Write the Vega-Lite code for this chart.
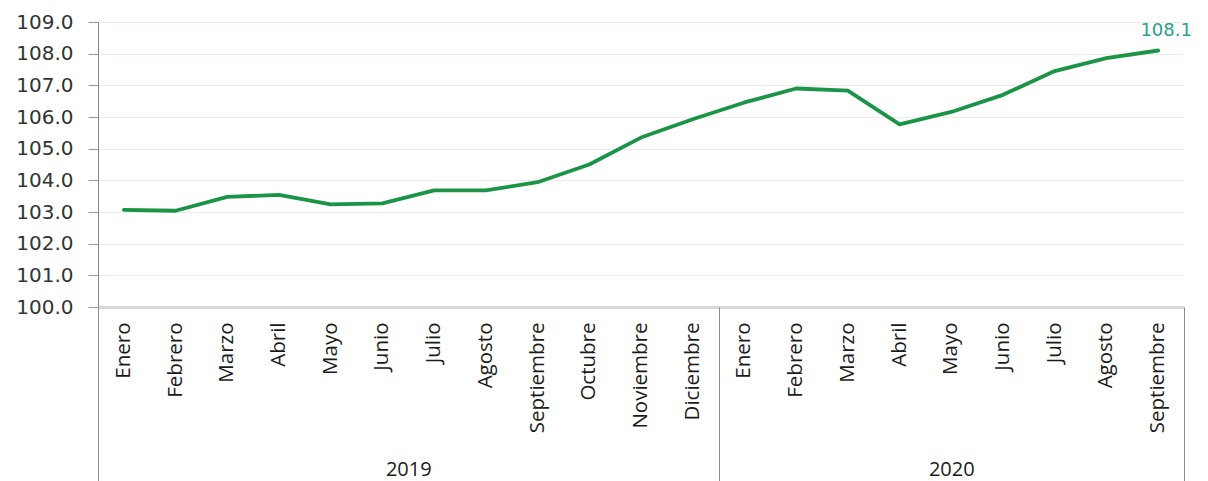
{
  "$schema": "https://vega.github.io/schema/vega-lite/v6.json",
  "width": 1086,
  "height": 285,
  "autosize": {"type": "none"},
  "padding": {"left": 98, "top": 22, "right": 24, "bottom": 174},
  "background": "white",
  "config": {
    "view": {"stroke": null},
    "axis": {"labelOverlap": false, "titlePadding": 0}
  },
  "datasets": {
    "serie": [
      {"periodo": "Enero 2019", "valor": 103.07},
      {"periodo": "Febrero 2019", "valor": 103.04},
      {"periodo": "Marzo 2019", "valor": 103.48},
      {"periodo": "Abril 2019", "valor": 103.54},
      {"periodo": "Mayo 2019", "valor": 103.24},
      {"periodo": "Junio 2019", "valor": 103.27},
      {"periodo": "Julio 2019", "valor": 103.68},
      {"periodo": "Agosto 2019", "valor": 103.68},
      {"periodo": "Septiembre 2019", "valor": 103.94},
      {"periodo": "Octubre 2019", "valor": 104.5},
      {"periodo": "Noviembre 2019", "valor": 105.35},
      {"periodo": "Diciembre 2019", "valor": 105.93},
      {"periodo": "Enero 2020", "valor": 106.46},
      {"periodo": "Febrero 2020", "valor": 106.9},
      {"periodo": "Marzo 2020", "valor": 106.83},
      {"periodo": "Abril 2020", "valor": 105.77},
      {"periodo": "Mayo 2020", "valor": 106.16},
      {"periodo": "Junio 2020", "valor": 106.7},
      {"periodo": "Julio 2020", "valor": 107.45},
      {"periodo": "Agosto 2020", "valor": 107.86},
      {"periodo": "Septiembre 2020", "valor": 108.1}
    ],
    "anios": [{"anio": 2019}, {"anio": 2020}],
    "limites": [{"mes": 0}, {"mes": 12}, {"mes": 21}]
  },
  "layer": [
    {
      "data": {"name": "serie"},
      "encoding": {
        "x": {
          "field": "periodo",
          "type": "nominal",
          "sort": null,
          "scale": {"type": "band", "paddingInner": 0, "paddingOuter": 0},
          "axis": {
            "orient": "bottom",
            "title": null,
            "labelExpr": "split(datum.label, ' ')[0]",
            "labelAngle": 270,
            "labelAlign": "right",
            "labelBaseline": "middle",
            "labelPadding": 15,
            "labelFont": "Open Sans",
            "labelFontSize": 20.5,
            "labelColor": "#1a1a1a",
            "ticks": false,
            "grid": false,
            "domain": true,
            "domainColor": "#d6d6d6",
            "domainWidth": 3
          }
        },
        "y": {
          "field": "valor",
          "type": "quantitative",
          "scale": {"domain": [100, 109], "nice": false, "zero": false},
          "axis": {
            "title": null,
            "values": [100, 101, 102, 103, 104, 105, 106, 107, 108, 109],
            "format": ".1f",
            "labelFont": "DejaVu Sans",
            "labelFontSize": 20,
            "labelColor": "#333333",
            "labelPadding": 15,
            "tickSize": 10,
            "tickColor": "#999999",
            "domainColor": "#888888",
            "grid": true,
            "gridColor": "#f1eaea",
            "gridWidth": 1.2
          }
        }
      },
      "layer": [
        {
          "mark": {"type": "line", "color": "#1b9448", "strokeWidth": 3.8, "strokeJoin": "round", "strokeCap": "round"}
        },
        {
          "transform": [{"filter": "datum.periodo == 'Septiembre 2020'"}],
          "mark": {"type": "text", "font": "DejaVu Sans", "fontSize": 18, "color": "#2a9d8c", "align": "center", "baseline": "alphabetic", "dx": 8, "dy": -15},
          "encoding": {"text": {"field": "valor", "type": "quantitative", "format": ".1f"}}
        }
      ]
    },
    {
      "data": {"name": "anios"},
      "mark": {"type": "point", "opacity": 0},
      "encoding": {
        "x": {
          "field": "anio",
          "type": "quantitative",
          "scale": {"domain": [2018.4285714, 2020.4285714], "nice": false, "zero": false},
          "axis": {
            "orient": "bottom",
            "title": null,
            "values": [2019, 2020],
            "format": "d",
            "ticks": false,
            "domain": false,
            "grid": false,
            "labelFont": "Open Sans",
            "labelFontSize": 20,
            "labelColor": "#1a1a1a",
            "labelBaseline": "alphabetic",
            "labelPadding": 168
          }
        }
      }
    },
    {
      "data": {"name": "limites"},
      "mark": {"type": "rule", "opacity": 0},
      "encoding": {
        "x": {
          "field": "mes",
          "type": "quantitative",
          "scale": {"domain": [0, 21], "nice": false, "zero": false},
          "axis": {
            "orient": "bottom",
            "title": null,
            "values": [0, 12, 21],
            "labels": false,
            "ticks": true,
            "tickSize": 175,
            "tickColor": "#8c8c8c",
            "tickWidth": 1,
            "domain": false,
            "grid": false
          }
        }
      }
    }
  ],
  "resolve": {"scale": {"x": "independent"}, "axis": {"x": "independent"}}
}
